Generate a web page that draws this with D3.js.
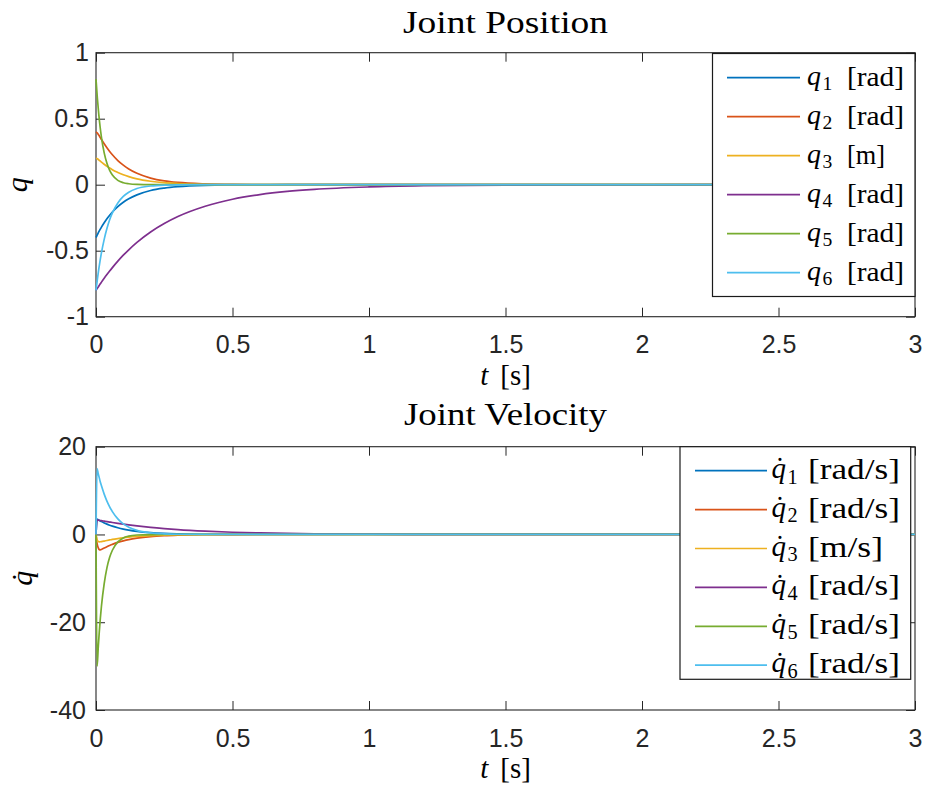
<!DOCTYPE html>
<html>
<head>
<meta charset="utf-8">
<script src="https://cdn.jsdelivr.net/npm/d3@7/dist/d3.min.js"></script>
<style>
  body { margin: 0; background: #fff; }
  svg { display: block; }
</style>
</head>
<body>
<svg id="chart" width="925" height="791"></svg>
<script>
// ---- joint position samples [s] ----
const tPos = [0, 0.005, 0.01, 0.015, 0.02, 0.03, 0.04, 0.05, 0.06, 0.08, 0.1, 0.12, 0.15, 0.2, 0.25, 0.3, 0.4, 0.5, 0.6, 0.7, 0.8, 1.0, 1.2, 1.5, 2.0, 2.5, 3.0];
const q1 = [-0.4, -0.379, -0.358, -0.339, -0.321, -0.288, -0.258, -0.231, -0.207, -0.166, -0.133, -0.107, -0.077, -0.044, -0.026, -0.015, -0.005, -0.002, -0.001, 0, 0, 0, 0, 0, 0, 0, 0];
const q2 = [0.4, 0.391, 0.376, 0.359, 0.342, 0.310, 0.280, 0.252, 0.227, 0.183, 0.148, 0.119, 0.086, 0.050, 0.029, 0.017, 0.006, 0.002, 0.001, 0, 0, 0, 0, 0, 0, 0, 0];
const q3 = [0.2, 0.196, 0.188, 0.180, 0.171, 0.155, 0.140, 0.127, 0.114, 0.093, 0.075, 0.061, 0.044, 0.026, 0.015, 0.009, 0.003, 0.001, 0, 0, 0, 0, 0, 0, 0, 0, 0];
const q4 = [-0.8, -0.784, -0.769, -0.753, -0.738, -0.709, -0.681, -0.654, -0.628, -0.579, -0.534, -0.493, -0.437, -0.358, -0.294, -0.241, -0.163, -0.110, -0.075, -0.051, -0.035, -0.017, -0.008, -0.003, -0.001, 0, 0];
const q5 = [0.8, 0.655, 0.536, 0.439, 0.359, 0.241, 0.162, 0.108, 0.073, 0.033, 0.015, 0.007, 0.002, 0, 0, 0, 0, 0, 0, 0, 0, 0, 0, 0, 0, 0, 0];
const q6 = [-0.8, -0.717, -0.642, -0.575, -0.515, -0.414, -0.332, -0.266, -0.214, -0.138, -0.089, -0.057, -0.029, -0.010, -0.003, -0.001, 0, 0, 0, 0, 0, 0, 0, 0, 0, 0, 0];

// ---- joint velocity samples [s] ----
const tVel = [0, 0.004, 0.008, 0.012, 0.016, 0.02, 0.03, 0.04, 0.05, 0.06, 0.08, 0.1, 0.12, 0.15, 0.2, 0.25, 0.3, 0.4, 0.5, 0.6, 0.7, 0.8, 1.0, 1.2, 1.5, 2.0, 2.5, 3.0];
const qd1 = [0, 3.5, 3.35, 3.2, 3.06, 2.93, 2.62, 2.35, 2.11, 1.89, 1.52, 1.22, 0.98, 0.70, 0.40, 0.23, 0.135, 0.045, 0.015, 0.005, 0.002, 0, 0, 0, 0, 0, 0, 0];
const qd2 = [0, -2.1, -3.0, -3.45, -3.5, -3.42, -3.1, -2.8, -2.5, -2.25, -1.8, -1.45, -1.16, -0.84, -0.48, -0.28, -0.16, -0.055, -0.018, -0.006, -0.002, 0, 0, 0, 0, 0, 0, 0];
const qd3 = [0, -1.2, -1.6, -1.68, -1.66, -1.62, -1.5, -1.37, -1.25, -1.13, -0.93, -0.76, -0.62, -0.45, -0.26, -0.15, -0.09, -0.03, -0.01, -0.003, 0, 0, 0, 0, 0, 0, 0, 0];
const qd4 = [0, 3.3, 3.27, 3.23, 3.19, 3.15, 3.04, 2.93, 2.83, 2.73, 2.54, 2.36, 2.19, 1.96, 1.62, 1.34, 1.10, 0.75, 0.51, 0.35, 0.24, 0.16, 0.075, 0.035, 0.011, 0.002, 0, 0];
const qd5 = [0, -30, -26, -22.2, -19, -16.3, -11.2, -7.6, -5.2, -3.6, -1.7, -0.78, -0.37, -0.12, -0.02, 0, 0, 0, 0, 0, 0, 0, 0, 0, 0, 0, 0, 0];
const qd6 = [0, 15, 13.9, 12.9, 11.9, 11.1, 9.2, 7.6, 6.3, 5.2, 3.55, 2.4, 1.65, 0.93, 0.36, 0.14, 0.05, 0.008, 0, 0, 0, 0, 0, 0, 0, 0, 0, 0];

// ---- ticks, labels, legend text ----
const xTicks = [0, 0.5, 1, 1.5, 2, 2.5, 3];
const xTickLabels = ["0", "0.5", "1", "1.5", "2", "2.5", "3"];
const posTicks = [-1, -0.5, 0, 0.5, 1];
const posTickLabels = ["-1", "-0.5", "0", "0.5", "1"];
const velTicks = [-40, -20, 0, 20];
const velTickLabels = ["-40", "-20", "0", "20"];
const seriesColors = ["#0072BD", "#D95319", "#EDB120", "#7E2F8E", "#77AC30", "#4DBEEE"];
const jointIndex = ["1", "2", "3", "4", "5", "6"];
const posUnits = ["[rad]", "[rad]", "[m]", "[rad]", "[rad]", "[rad]"];
const velUnits = ["[rad/s]", "[rad/s]", "[m/s]", "[rad/s]", "[rad/s]", "[rad/s]"];

const svg = d3.select("#chart");
const AX = "#262626";
const SANS = "'Liberation Sans', Arial, Helvetica, sans-serif";
const SERIF = "'Liberation Serif', 'Times New Roman', serif";

// italic q, with a combining dot above for the time derivative
function qSymbol(g, x, y, fs, dotted, anchor) {
  const t = g.append("text").attr("x", x).attr("y", y)
    .attr("font-family", SERIF).attr("font-size", fs).attr("font-style", "italic")
    .attr("fill", "#000")
    .text(dotted ? "q\u0307" : "q");
  if (anchor) t.attr("text-anchor", anchor);
  return t;
}

function drawPanel(cfg) {
  const x = d3.scaleLinear().domain([0, 3]).range([96, 915]);
  const y = d3.scaleLinear().domain(cfg.yDomain).range([cfg.bottom, cfg.top]);
  const g = svg.append("g");

  g.append("rect").attr("x", x(0)).attr("y", cfg.top)
    .attr("width", x(3) - x(0)).attr("height", cfg.bottom - cfg.top)
    .attr("fill", "#fff");

  const styleAxis = sel => {
    sel.select(".domain").remove();
    sel.selectAll(".tick line").attr("stroke", AX).attr("stroke-width", 1);
    sel.selectAll(".tick text").attr("fill", AX).attr("font-family", SANS).attr("font-size", 25);
  };

  // ticks point inward on all four sides; labels only bottom and left
  g.append("g").attr("transform", `translate(0,${cfg.bottom})`)
    .call(d3.axisBottom(x).tickValues(xTicks).tickFormat((d, i) => xTickLabels[i])
      .tickSizeInner(-9).tickSizeOuter(0).tickPadding(19))
    .call(styleAxis);
  g.append("g").attr("transform", `translate(0,${cfg.top})`)
    .call(d3.axisTop(x).tickValues(xTicks).tickFormat("").tickSizeInner(-9).tickSizeOuter(0))
    .call(styleAxis);
  g.append("g").attr("transform", `translate(${x(0)},0)`)
    .call(d3.axisLeft(y).tickValues(cfg.yTicks).tickFormat((d, i) => cfg.yTickLabels[i])
      .tickSizeInner(-9).tickSizeOuter(0).tickPadding(cfg.yPad))
    .call(styleAxis);
  g.append("g").attr("transform", `translate(${x(3)},0)`)
    .call(d3.axisRight(y).tickValues(cfg.yTicks).tickFormat("").tickSizeInner(-9).tickSizeOuter(0))
    .call(styleAxis);

  g.append("rect").attr("x", x(0)).attr("y", cfg.top)
    .attr("width", x(3) - x(0)).attr("height", cfg.bottom - cfg.top)
    .attr("fill", "none").attr("stroke", AX).attr("stroke-width", 1.1);

  // data lines
  const clipId = "clip-" + cfg.id;
  svg.append("clipPath").attr("id", clipId).append("rect")
    .attr("x", x(0) - 1).attr("y", cfg.top).attr("width", x(3) - x(0) + 2).attr("height", cfg.bottom - cfg.top);
  const line = d3.line().x(d => x(d[0])).y(d => y(d[1])).curve(d3.curveMonotoneX);
  const lines = g.append("g").attr("clip-path", `url(#${clipId})`);
  cfg.series.forEach((vals, i) => {
    lines.append("path")
      .datum(cfg.t.map((tt, j) => [tt, vals[j]]))
      .attr("d", line)
      .attr("fill", "none")
      .attr("stroke", seriesColors[i])
      .attr("stroke-width", 1.7)
      .attr("stroke-linejoin", "round");
  });

  // title
  g.append("text").attr("x", (x(0) + x(3)) / 2).attr("y", cfg.titleY)
    .attr("text-anchor", "middle").attr("font-family", SERIF).attr("font-size", 32)
    .attr("textLength", cfg.titleW).attr("lengthAdjust", "spacingAndGlyphs")
    .attr("fill", "#000").text(cfg.title);

  // x label: t [s]
  const xl = g.append("text").attr("x", (x(0) + x(3)) / 2).attr("y", cfg.bottom + 68)
    .attr("text-anchor", "middle").attr("font-family", SERIF).attr("font-size", 29).attr("fill", "#000");
  xl.append("tspan").attr("font-style", "italic").text("t");
  xl.append("tspan").attr("dx", 12).text("[s]");

  // y label
  const yl = g.append("g").attr("transform", `translate(${cfg.yLabelX},${(cfg.top + cfg.bottom) / 2}) rotate(-90)`);
  qSymbol(yl, 0, 0, 30, cfg.dotted, "middle");

  // legend
  const L = cfg.legend;
  const lg = g.append("g");
  lg.append("rect").attr("x", L.x0).attr("y", L.y0).attr("width", L.x1 - L.x0).attr("height", L.y1 - L.y0)
    .attr("fill", "#fff").attr("stroke", "#1a1a1a").attr("stroke-width", 1.2);
  cfg.units.forEach((u, i) => {
    const ry = L.rowY + i * L.rowStep;
    lg.append("line").attr("x1", L.lineX0).attr("x2", L.lineX1).attr("y1", ry).attr("y2", ry)
      .attr("stroke", seriesColors[i]).attr("stroke-width", 1.7);
    qSymbol(lg, L.qX, ry + 7, L.fs, cfg.dotted);
    // subscript joint index
    lg.append("text").attr("x", L.qX + L.fs * 0.5 + 1.5).attr("y", ry + 7 + L.fs * 0.2)
      .attr("font-family", SERIF).attr("font-size", L.fs * 0.7).attr("fill", "#000")
      .text(jointIndex[i]);
    lg.append("text").attr("x", L.uX).attr("y", ry + 8)
      .attr("font-family", SERIF).attr("font-size", L.fs).attr("fill", "#000")
      .attr("textLength", L.uW[u]).attr("lengthAdjust", "spacingAndGlyphs")
      .text(u);
  });
}

drawPanel({
  id: "pos", top: 52.7, bottom: 316.7, yDomain: [-1, 1],
  yTicks: posTicks, yTickLabels: posTickLabels, yPad: 7,
  t: tPos, series: [q1, q2, q3, q4, q5, q6],
  title: "Joint Position", titleY: 33, titleW: 205,
  yLabelX: 27, dotted: false, units: posUnits,
  legend: { x0: 712.5, x1: 915, y0: 53.5, y1: 296.5, rowY: 77.7, rowStep: 39,
            lineX0: 727, lineX1: 800, qX: 807, uX: 847, fs: 28,
            uW: { "[rad]": 57, "[m]": 38 } }
});

drawPanel({
  id: "vel", top: 446.7, bottom: 710, yDomain: [-40, 20],
  yTicks: velTicks, yTickLabels: velTickLabels, yPad: 10,
  t: tVel, series: [qd1, qd2, qd3, qd4, qd5, qd6],
  title: "Joint Velocity", titleY: 425, titleW: 203,
  yLabelX: 32, dotted: true, units: velUnits,
  legend: { x0: 680, x1: 910.7, y0: 446.7, y1: 679.3, rowY: 470.7, rowStep: 38.9,
            lineX0: 695, lineX1: 767, qX: 771.5, uX: 808, fs: 29,
            uW: { "[rad/s]": 92, "[m/s]": 75 } }
});
</script>
</body>
</html>
